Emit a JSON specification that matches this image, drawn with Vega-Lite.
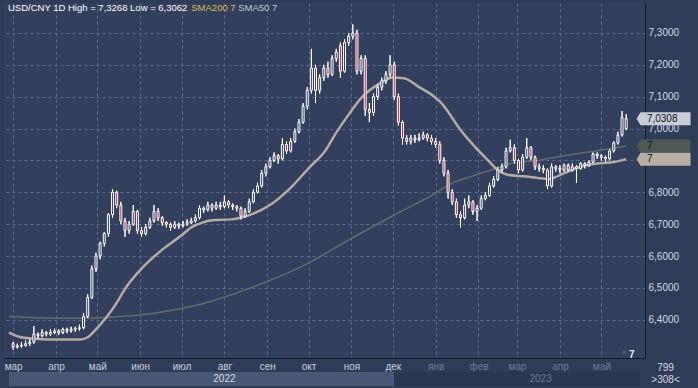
{
  "$schema": "https://vega.github.io/schema/vega-lite/v6.json",
  "width": 641,
  "height": 355,
  "autosize": {"type": "none"},
  "padding": {"left": 4, "top": 3, "right": 53, "bottom": 30},
  "background": "#2f3c58",
  "config": {
    "view": {"fill": "#33405d", "stroke": null},
    "font": "Liberation Sans",
    "text": {"font": "Liberation Sans"}
  },
  "resolve": {"axis": {"x": "independent", "y": "independent"}},
  "datasets": {
    "candles": [
      {"t":"2022-03-01","o":6.325,"h":6.33,"l":6.306,"c":6.315},
      {"t":"2022-03-04","o":6.315,"h":6.325,"l":6.31,"c":6.318},
      {"t":"2022-03-07","o":6.318,"h":6.33,"l":6.312,"c":6.32},
      {"t":"2022-03-10","o":6.32,"h":6.335,"l":6.315,"c":6.325},
      {"t":"2022-03-13","o":6.325,"h":6.34,"l":6.318,"c":6.33},
      {"t":"2022-03-16","o":6.33,"h":6.38,"l":6.325,"c":6.355},
      {"t":"2022-03-19","o":6.355,"h":6.36,"l":6.34,"c":6.35},
      {"t":"2022-03-22","o":6.35,"h":6.37,"l":6.345,"c":6.36},
      {"t":"2022-03-25","o":6.36,"h":6.365,"l":6.348,"c":6.355},
      {"t":"2022-03-28","o":6.355,"h":6.37,"l":6.35,"c":6.36},
      {"t":"2022-03-31","o":6.36,"h":6.372,"l":6.355,"c":6.365},
      {"t":"2022-04-03","o":6.365,"h":6.37,"l":6.352,"c":6.36},
      {"t":"2022-04-06","o":6.36,"h":6.375,"l":6.355,"c":6.37},
      {"t":"2022-04-09","o":6.37,"h":6.375,"l":6.358,"c":6.365},
      {"t":"2022-04-12","o":6.365,"h":6.378,"l":6.36,"c":6.37},
      {"t":"2022-04-15","o":6.37,"h":6.378,"l":6.362,"c":6.372},
      {"t":"2022-04-18","o":6.372,"h":6.385,"l":6.366,"c":6.375},
      {"t":"2022-04-21","o":6.375,"h":6.42,"l":6.37,"c":6.41},
      {"t":"2022-04-24","o":6.41,"h":6.48,"l":6.405,"c":6.47},
      {"t":"2022-04-27","o":6.47,"h":6.57,"l":6.465,"c":6.56},
      {"t":"2022-04-30","o":6.56,"h":6.61,"l":6.55,"c":6.6},
      {"t":"2022-05-03","o":6.6,"h":6.645,"l":6.59,"c":6.64},
      {"t":"2022-05-06","o":6.64,"h":6.675,"l":6.63,"c":6.67},
      {"t":"2022-05-09","o":6.67,"h":6.735,"l":6.66,"c":6.73},
      {"t":"2022-05-12","o":6.73,"h":6.81,"l":6.72,"c":6.8},
      {"t":"2022-05-15","o":6.8,"h":6.805,"l":6.75,"c":6.76},
      {"t":"2022-05-18","o":6.76,"h":6.77,"l":6.7,"c":6.71},
      {"t":"2022-05-21","o":6.71,"h":6.72,"l":6.66,"c":6.68},
      {"t":"2022-05-24","o":6.68,"h":6.71,"l":6.67,"c":6.7},
      {"t":"2022-05-27","o":6.7,"h":6.76,"l":6.695,"c":6.74},
      {"t":"2022-05-30","o":6.74,"h":6.745,"l":6.67,"c":6.68},
      {"t":"2022-06-02","o":6.68,"h":6.69,"l":6.66,"c":6.67},
      {"t":"2022-06-05","o":6.67,"h":6.7,"l":6.665,"c":6.69},
      {"t":"2022-06-08","o":6.69,"h":6.72,"l":6.685,"c":6.71},
      {"t":"2022-06-11","o":6.71,"h":6.76,"l":6.705,"c":6.74},
      {"t":"2022-06-14","o":6.74,"h":6.75,"l":6.71,"c":6.72},
      {"t":"2022-06-17","o":6.72,"h":6.725,"l":6.695,"c":6.705},
      {"t":"2022-06-20","o":6.705,"h":6.71,"l":6.69,"c":6.7},
      {"t":"2022-06-23","o":6.7,"h":6.705,"l":6.68,"c":6.69},
      {"t":"2022-06-26","o":6.69,"h":6.71,"l":6.685,"c":6.7},
      {"t":"2022-06-29","o":6.7,"h":6.705,"l":6.685,"c":6.695},
      {"t":"2022-07-02","o":6.695,"h":6.71,"l":6.69,"c":6.7},
      {"t":"2022-07-05","o":6.7,"h":6.715,"l":6.695,"c":6.705},
      {"t":"2022-07-08","o":6.705,"h":6.72,"l":6.7,"c":6.71},
      {"t":"2022-07-11","o":6.71,"h":6.73,"l":6.705,"c":6.72},
      {"t":"2022-07-14","o":6.72,"h":6.76,"l":6.715,"c":6.75},
      {"t":"2022-07-17","o":6.75,"h":6.755,"l":6.735,"c":6.745},
      {"t":"2022-07-20","o":6.745,"h":6.77,"l":6.74,"c":6.76},
      {"t":"2022-07-23","o":6.76,"h":6.765,"l":6.74,"c":6.75},
      {"t":"2022-07-26","o":6.75,"h":6.77,"l":6.745,"c":6.76},
      {"t":"2022-07-29","o":6.76,"h":6.77,"l":6.745,"c":6.755},
      {"t":"2022-08-01","o":6.755,"h":6.79,"l":6.75,"c":6.77},
      {"t":"2022-08-04","o":6.77,"h":6.775,"l":6.75,"c":6.76},
      {"t":"2022-08-07","o":6.76,"h":6.765,"l":6.745,"c":6.755},
      {"t":"2022-08-10","o":6.755,"h":6.76,"l":6.74,"c":6.75},
      {"t":"2022-08-13","o":6.75,"h":6.755,"l":6.715,"c":6.725},
      {"t":"2022-08-16","o":6.725,"h":6.75,"l":6.72,"c":6.74},
      {"t":"2022-08-19","o":6.74,"h":6.78,"l":6.735,"c":6.77},
      {"t":"2022-08-22","o":6.77,"h":6.81,"l":6.765,"c":6.8},
      {"t":"2022-08-25","o":6.8,"h":6.83,"l":6.795,"c":6.82},
      {"t":"2022-08-28","o":6.82,"h":6.87,"l":6.815,"c":6.86},
      {"t":"2022-08-31","o":6.86,"h":6.89,"l":6.85,"c":6.88},
      {"t":"2022-09-03","o":6.88,"h":6.91,"l":6.875,"c":6.9},
      {"t":"2022-09-06","o":6.9,"h":6.925,"l":6.895,"c":6.915},
      {"t":"2022-09-09","o":6.915,"h":6.92,"l":6.89,"c":6.905},
      {"t":"2022-09-12","o":6.905,"h":6.97,"l":6.9,"c":6.95},
      {"t":"2022-09-15","o":6.95,"h":6.96,"l":6.92,"c":6.93},
      {"t":"2022-09-18","o":6.93,"h":6.97,"l":6.925,"c":6.96},
      {"t":"2022-09-21","o":6.96,"h":7.0,"l":6.955,"c":6.99},
      {"t":"2022-09-24","o":6.99,"h":7.03,"l":6.985,"c":7.02},
      {"t":"2022-09-27","o":7.02,"h":7.08,"l":7.015,"c":7.07},
      {"t":"2022-09-30","o":7.07,"h":7.13,"l":7.06,"c":7.12},
      {"t":"2022-10-03","o":7.12,"h":7.25,"l":7.11,"c":7.19},
      {"t":"2022-10-06","o":7.19,"h":7.2,"l":7.08,"c":7.12},
      {"t":"2022-10-09","o":7.12,"h":7.17,"l":7.11,"c":7.16},
      {"t":"2022-10-12","o":7.16,"h":7.2,"l":7.15,"c":7.19},
      {"t":"2022-10-15","o":7.19,"h":7.21,"l":7.16,"c":7.17},
      {"t":"2022-10-18","o":7.17,"h":7.23,"l":7.165,"c":7.22},
      {"t":"2022-10-21","o":7.22,"h":7.25,"l":7.21,"c":7.24},
      {"t":"2022-10-24","o":7.26,"h":7.27,"l":7.16,"c":7.18},
      {"t":"2022-10-27","o":7.18,"h":7.28,"l":7.175,"c":7.27},
      {"t":"2022-10-30","o":7.27,"h":7.3,"l":7.26,"c":7.29},
      {"t":"2022-11-02","o":7.29,"h":7.3268,"l":7.28,"c":7.3},
      {"t":"2022-11-05","o":7.3,"h":7.31,"l":7.17,"c":7.18},
      {"t":"2022-11-08","o":7.18,"h":7.23,"l":7.17,"c":7.22},
      {"t":"2022-11-11","o":7.22,"h":7.23,"l":7.04,"c":7.06},
      {"t":"2022-11-14","o":7.06,"h":7.08,"l":7.02,"c":7.05},
      {"t":"2022-11-17","o":7.05,"h":7.11,"l":7.04,"c":7.1},
      {"t":"2022-11-20","o":7.1,"h":7.14,"l":7.09,"c":7.13},
      {"t":"2022-11-23","o":7.13,"h":7.16,"l":7.12,"c":7.15},
      {"t":"2022-11-26","o":7.15,"h":7.18,"l":7.14,"c":7.17},
      {"t":"2022-11-29","o":7.17,"h":7.23,"l":7.16,"c":7.2},
      {"t":"2022-12-02","o":7.2,"h":7.21,"l":7.09,"c":7.1},
      {"t":"2022-12-05","o":7.1,"h":7.11,"l":7.01,"c":7.02},
      {"t":"2022-12-08","o":7.02,"h":7.025,"l":6.95,"c":6.97},
      {"t":"2022-12-11","o":6.97,"h":6.98,"l":6.95,"c":6.96},
      {"t":"2022-12-14","o":6.96,"h":6.98,"l":6.95,"c":6.97},
      {"t":"2022-12-17","o":6.97,"h":6.98,"l":6.955,"c":6.965},
      {"t":"2022-12-20","o":6.965,"h":6.985,"l":6.96,"c":6.97},
      {"t":"2022-12-23","o":6.97,"h":6.99,"l":6.965,"c":6.98},
      {"t":"2022-12-26","o":6.98,"h":6.985,"l":6.96,"c":6.97},
      {"t":"2022-12-29","o":6.97,"h":6.98,"l":6.95,"c":6.96},
      {"t":"2023-01-01","o":6.96,"h":6.97,"l":6.94,"c":6.95},
      {"t":"2023-01-04","o":6.95,"h":6.96,"l":6.89,"c":6.9},
      {"t":"2023-01-07","o":6.9,"h":6.91,"l":6.85,"c":6.86},
      {"t":"2023-01-10","o":6.86,"h":6.87,"l":6.78,"c":6.8},
      {"t":"2023-01-13","o":6.8,"h":6.81,"l":6.76,"c":6.77},
      {"t":"2023-01-16","o":6.77,"h":6.78,"l":6.72,"c":6.73},
      {"t":"2023-01-19","o":6.73,"h":6.74,"l":6.69,"c":6.72},
      {"t":"2023-01-22","o":6.72,"h":6.78,"l":6.715,"c":6.76},
      {"t":"2023-01-25","o":6.76,"h":6.79,"l":6.75,"c":6.77},
      {"t":"2023-01-28","o":6.77,"h":6.775,"l":6.73,"c":6.74},
      {"t":"2023-01-31","o":6.74,"h":6.76,"l":6.71,"c":6.75},
      {"t":"2023-02-03","o":6.75,"h":6.79,"l":6.745,"c":6.78},
      {"t":"2023-02-06","o":6.78,"h":6.8,"l":6.775,"c":6.79},
      {"t":"2023-02-09","o":6.79,"h":6.83,"l":6.785,"c":6.82},
      {"t":"2023-02-12","o":6.82,"h":6.85,"l":6.815,"c":6.84},
      {"t":"2023-02-15","o":6.84,"h":6.88,"l":6.835,"c":6.87},
      {"t":"2023-02-18","o":6.87,"h":6.89,"l":6.86,"c":6.88},
      {"t":"2023-02-21","o":6.88,"h":6.94,"l":6.875,"c":6.93},
      {"t":"2023-02-24","o":6.93,"h":6.965,"l":6.925,"c":6.94},
      {"t":"2023-02-27","o":6.94,"h":6.95,"l":6.89,"c":6.9},
      {"t":"2023-03-02","o":6.9,"h":6.905,"l":6.86,"c":6.87},
      {"t":"2023-03-05","o":6.87,"h":6.92,"l":6.865,"c":6.91},
      {"t":"2023-03-08","o":6.91,"h":6.97,"l":6.905,"c":6.94},
      {"t":"2023-03-11","o":6.94,"h":6.945,"l":6.9,"c":6.91},
      {"t":"2023-03-14","o":6.91,"h":6.915,"l":6.87,"c":6.88},
      {"t":"2023-03-17","o":6.88,"h":6.89,"l":6.865,"c":6.875},
      {"t":"2023-03-20","o":6.875,"h":6.885,"l":6.86,"c":6.87},
      {"t":"2023-03-23","o":6.87,"h":6.875,"l":6.81,"c":6.82},
      {"t":"2023-03-26","o":6.82,"h":6.89,"l":6.815,"c":6.88},
      {"t":"2023-03-29","o":6.88,"h":6.885,"l":6.865,"c":6.875},
      {"t":"2023-04-01","o":6.875,"h":6.885,"l":6.86,"c":6.87},
      {"t":"2023-04-04","o":6.87,"h":6.89,"l":6.865,"c":6.885},
      {"t":"2023-04-07","o":6.885,"h":6.89,"l":6.865,"c":6.87},
      {"t":"2023-04-10","o":6.87,"h":6.89,"l":6.865,"c":6.88},
      {"t":"2023-04-13","o":6.88,"h":6.885,"l":6.83,"c":6.875},
      {"t":"2023-04-16","o":6.875,"h":6.895,"l":6.87,"c":6.89},
      {"t":"2023-04-19","o":6.89,"h":6.895,"l":6.875,"c":6.885},
      {"t":"2023-04-22","o":6.885,"h":6.9,"l":6.88,"c":6.895},
      {"t":"2023-04-25","o":6.895,"h":6.925,"l":6.89,"c":6.92},
      {"t":"2023-04-28","o":6.92,"h":6.925,"l":6.905,"c":6.915},
      {"t":"2023-05-01","o":6.915,"h":6.92,"l":6.9,"c":6.91},
      {"t":"2023-05-04","o":6.91,"h":6.915,"l":6.895,"c":6.905},
      {"t":"2023-05-07","o":6.905,"h":6.935,"l":6.9,"c":6.93},
      {"t":"2023-05-10","o":6.93,"h":6.96,"l":6.925,"c":6.955},
      {"t":"2023-05-13","o":6.955,"h":6.99,"l":6.95,"c":6.98},
      {"t":"2023-05-16","o":6.98,"h":7.055,"l":6.975,"c":7.035},
      {"t":"2023-05-19","o":7.0,"h":7.045,"l":6.995,"c":7.0308}
    ],
    "sma50": [
      {"t":"2022-02-26","v":6.36},{"t":"2022-03-07","v":6.345},{"t":"2022-03-19","v":6.34},
      {"t":"2022-04-03","v":6.338},{"t":"2022-04-19","v":6.338},{"t":"2022-04-24","v":6.345},
      {"t":"2022-04-30","v":6.37},{"t":"2022-05-08","v":6.41},{"t":"2022-05-16","v":6.46},
      {"t":"2022-05-20","v":6.49},{"t":"2022-06-03","v":6.565},{"t":"2022-06-17","v":6.62},
      {"t":"2022-07-01","v":6.665},{"t":"2022-07-08","v":6.69},{"t":"2022-07-16","v":6.705},
      {"t":"2022-07-23","v":6.712},{"t":"2022-08-06","v":6.715},{"t":"2022-08-20","v":6.73},
      {"t":"2022-09-03","v":6.76},{"t":"2022-09-17","v":6.81},{"t":"2022-10-02","v":6.88},
      {"t":"2022-10-13","v":6.93},{"t":"2022-10-20","v":6.98},{"t":"2022-10-31","v":7.05},
      {"t":"2022-11-09","v":7.1},{"t":"2022-11-21","v":7.14},{"t":"2022-12-01","v":7.16},
      {"t":"2022-12-09","v":7.158},{"t":"2022-12-20","v":7.13},{"t":"2022-12-31","v":7.1},
      {"t":"2023-01-04","v":7.085},{"t":"2023-01-20","v":6.99},{"t":"2023-01-30","v":6.94},
      {"t":"2023-02-08","v":6.9},{"t":"2023-02-15","v":6.87},{"t":"2023-02-22","v":6.855},
      {"t":"2023-03-06","v":6.85},{"t":"2023-03-16","v":6.845},{"t":"2023-03-24","v":6.842},
      {"t":"2023-04-04","v":6.86},{"t":"2023-04-16","v":6.88},{"t":"2023-04-28","v":6.89},
      {"t":"2023-05-10","v":6.895},{"t":"2023-05-19","v":6.904}
    ],
    "sma200": [
      {"t":"2022-02-26","v":6.41},{"t":"2022-03-31","v":6.405},{"t":"2022-04-28","v":6.405},
      {"t":"2022-05-16","v":6.41},{"t":"2022-06-10","v":6.42},{"t":"2022-07-16","v":6.45},
      {"t":"2022-08-20","v":6.5},{"t":"2022-09-25","v":6.565},{"t":"2022-11-07","v":6.67},
      {"t":"2022-12-07","v":6.74},{"t":"2022-12-31","v":6.795},{"t":"2023-01-11","v":6.825},
      {"t":"2023-01-27","v":6.85},{"t":"2023-02-10","v":6.87},{"t":"2023-02-24","v":6.89},
      {"t":"2023-03-16","v":6.9},{"t":"2023-04-04","v":6.915},{"t":"2023-04-28","v":6.93},
      {"t":"2023-05-19","v":6.945}
    ],
    "years": [
      {"year":"2022","start":"2022-02-26","end":"2022-12-02","mid":"2022-08-01"},
      {"year":"2023","start":"2022-12-02","end":"2023-05-29","mid":"2023-03-18"}
    ],
    "tags": [
      {"label":"7,0308","v":7.0308,"kind":"close"},
      {"label":"7","v":6.945,"kind":"sma200"},
      {"label":"7","v":6.904,"kind":"sma50"}
    ]
  },
  "layer": [
    {
      "data": {"name": "candles"},
      "mark": {"type": "rule", "color": "#ffffff", "strokeWidth": 1},
      "encoding": {
        "x": {
          "field": "t", "type": "temporal",
          "scale": {"type": "utc", "domain": [{"year": 2022, "month": 2, "date": 26, "utc": true}, {"year": 2023, "month": 5, "date": 29, "utc": true}]},
          "axis": {
            "title": null,
            "values": [
              {"year": 2022, "month": 3, "date": 1, "utc": true},
              {"year": 2022, "month": 4, "date": 1, "utc": true},
              {"year": 2022, "month": 5, "date": 1, "utc": true},
              {"year": 2022, "month": 6, "date": 1, "utc": true},
              {"year": 2022, "month": 7, "date": 1, "utc": true},
              {"year": 2022, "month": 8, "date": 1, "utc": true},
              {"year": 2022, "month": 9, "date": 1, "utc": true},
              {"year": 2022, "month": 10, "date": 1, "utc": true},
              {"year": 2022, "month": 11, "date": 1, "utc": true},
              {"year": 2022, "month": 12, "date": 1, "utc": true},
              {"year": 2023, "month": 1, "date": 1, "utc": true},
              {"year": 2023, "month": 2, "date": 1, "utc": true},
              {"year": 2023, "month": 3, "date": 1, "utc": true},
              {"year": 2023, "month": 4, "date": 1, "utc": true},
              {"year": 2023, "month": 5, "date": 1, "utc": true}
            ],
            "labelExpr": "['янв','фев','мар','апр','май','июн','июл','авг','сен','окт','ноя','дек'][utcmonth(datum.value)]",
            "labelColor": {"condition": {"test": "datum.value < utc(2022, 11, 15)", "value": "#c9cfda"}, "value": "#6d7992"},
            "labelFontSize": 10,
            "labelFont": "Liberation Sans",
            "labelPadding": 3,
            "labelFlush": false,
            "labelOverlap": false,
            "ticks": false,
            "domainColor": "#121826",
            "domainWidth": 1,
            "grid": true,
            "gridColor": "#5a6a8a",
            "gridDash": [3, 3],
            "gridWidth": 1
          }
        },
        "y": {
          "field": "l", "type": "quantitative",
          "scale": {"domain": [6.28, 7.394], "zero": false, "nice": false},
          "axis": {
            "title": null,
            "orient": "right",
            "values": [6.4, 6.5, 6.6, 6.7, 6.8, 6.9, 7.0, 7.1, 7.2, 7.3],
            "tickCount": 10,
            "labelExpr": "abs(datum.value - 6.9) < 0.001 ? '' : replace(format(datum.value, '.4f'), '.', ',')",
            "labelAlign": "left",
            "labelPadding": 3,
            "labelFontSize": 10,
            "labelFont": "Liberation Sans",
            "labelColor": "#d3d8e2",
            "labelOverlap": false,
            "ticks": false,
            "domainColor": "#121826",
            "domainWidth": 1,
            "grid": true,
            "gridColor": "#5a6a8a",
            "gridDash": [3, 3],
            "gridWidth": 1
          }
        },
        "y2": {"field": "h"}
      }
    },
    {
      "data": {"name": "years"},
      "mark": {"type": "rect"},
      "encoding": {
        "x": {"field": "start", "type": "temporal", "axis": null},
        "x2": {"field": "end"},
        "y": {"datum": 6.236, "type": "quantitative", "axis": null},
        "y2": {"datum": 6.192},
        "fill": {"condition": {"test": "datum.year == '2022'", "value": "#4a5774"}, "value": "#2b3751"}
      }
    },
    {
      "data": {"name": "years"},
      "mark": {"type": "text", "fontSize": 10, "baseline": "middle", "align": "center"},
      "encoding": {
        "x": {"field": "mid", "type": "temporal", "axis": null},
        "y": {"datum": 6.214, "type": "quantitative", "axis": null},
        "text": {"field": "year"},
        "fill": {"condition": {"test": "datum.year == '2022'", "value": "#d5dae4"}, "value": "#6b7891"}
      }
    },
    {
      "data": {"name": "sma200"},
      "mark": {"type": "line", "color": "#646b69", "strokeWidth": 1.5, "interpolate": "monotone"},
      "encoding": {
        "x": {"field": "t", "type": "temporal", "axis": null},
        "y": {"field": "v", "type": "quantitative", "axis": null}
      }
    },
    {
      "data": {"name": "sma50"},
      "mark": {"type": "line", "color": "#b4aca4", "strokeWidth": 2.5, "interpolate": "monotone"},
      "encoding": {
        "x": {"field": "t", "type": "temporal", "axis": null},
        "y": {"field": "v", "type": "quantitative", "axis": null}
      }
    },
    {
      "data": {"name": "candles"},
      "mark": {"type": "rule", "color": "#ffffff", "strokeWidth": 1},
      "encoding": {
        "x": {"field": "t", "type": "temporal", "axis": null},
        "y": {"field": "l", "type": "quantitative", "axis": null},
        "y2": {"field": "h"}
      }
    },
    {
      "data": {"name": "candles"},
      "mark": {"type": "bar", "size": 2, "stroke": "#ffffff", "strokeWidth": 1},
      "encoding": {
        "x": {"field": "t", "type": "temporal", "axis": null},
        "y": {"field": "o", "type": "quantitative", "axis": null},
        "y2": {"field": "c"},
        "fill": {"condition": {"test": "datum.c < datum.o", "value": "#b3233f"}, "value": "#33405d"}
      }
    },
    {
      "data": {"values": [{"label": "USD/CNY 1D High = 7,3268 Low = 6,3062"}]},
      "mark": {"type": "text", "align": "left", "baseline": "middle", "fontSize": 9.5, "fill": "#ffffff", "dx": -1},
      "encoding": {
        "x": {"datum": {"year": 2022, "month": 2, "date": 26, "utc": true}, "type": "temporal", "axis": null},
        "y": {"datum": 7.379, "type": "quantitative", "axis": null},
        "text": {"field": "label"}
      }
    },
    {
      "data": {"values": [{"label": "SMA200 7"}]},
      "mark": {"type": "text", "align": "left", "baseline": "middle", "fontSize": 9.5, "fill": "#d9b84a"},
      "encoding": {
        "x": {"datum": {"year": 2022, "month": 7, "date": 8, "utc": true}, "type": "temporal", "axis": null},
        "y": {"datum": 7.379, "type": "quantitative", "axis": null},
        "text": {"field": "label"}
      }
    },
    {
      "data": {"values": [{"label": "SMA50 7"}]},
      "mark": {"type": "text", "align": "left", "baseline": "middle", "fontSize": 9.5, "fill": "#c4c4c4"},
      "encoding": {
        "x": {"datum": {"year": 2022, "month": 8, "date": 11, "utc": true}, "type": "temporal", "axis": null},
        "y": {"datum": 7.379, "type": "quantitative", "axis": null},
        "text": {"field": "label"}
      }
    },
    {
      "data": {"name": "tags"},
      "mark": {"type": "point", "filled": true, "opacity": 1, "size": 2500, "strokeWidth": 0, "shape": "M-1.16,0L-1,-0.26L1,-0.26L1,0.26L-1,0.26Z"},
      "encoding": {
        "x": {"datum": {"year": 2023, "month": 6, "date": 16, "hours": 12, "utc": true}, "type": "temporal", "axis": null},
        "y": {"field": "v", "type": "quantitative", "axis": null},
        "fill": {"condition": [{"test": "datum.kind == 'close'", "value": "#c8cdd6"}, {"test": "datum.kind == 'sma200'", "value": "#4e5854"}], "value": "#b7aea5"}
      }
    },
    {
      "data": {"name": "tags"},
      "mark": {"type": "text", "align": "left", "baseline": "middle", "fontSize": 10, "fill": "#111111"},
      "encoding": {
        "x": {"datum": {"year": 2023, "month": 6, "date": 3, "utc": true}, "type": "temporal", "axis": null},
        "y": {"field": "v", "type": "quantitative", "axis": null},
        "text": {"field": "label"}
      }
    },
    {
      "data": {"values": [{"label": "799"}]},
      "mark": {"type": "text", "align": "center", "baseline": "middle", "fontSize": 10, "fill": "#d3d8e2"},
      "encoding": {
        "x": {"datum": {"year": 2023, "month": 6, "date": 16, "hours": 12, "utc": true}, "type": "temporal", "axis": null},
        "y": {"datum": 6.2487, "type": "quantitative", "axis": null},
        "text": {"field": "label"}
      }
    },
    {
      "data": {"values": [{"label": ">308<"}]},
      "mark": {"type": "text", "align": "center", "baseline": "middle", "fontSize": 10, "fill": "#d3d8e2"},
      "encoding": {
        "x": {"datum": {"year": 2023, "month": 6, "date": 16, "hours": 12, "utc": true}, "type": "temporal", "axis": null},
        "y": {"datum": 6.211, "type": "quantitative", "axis": null},
        "text": {"field": "label"}
      }
    },
    {
      "data": {"values": [{"label": "▲"}]},
      "mark": {"type": "text", "align": "center", "baseline": "middle", "fontSize": 8, "fill": "#4a5671"},
      "encoding": {
        "x": {"datum": {"year": 2023, "month": 5, "date": 17, "hours": 12, "utc": true}, "type": "temporal", "axis": null},
        "y": {"datum": 6.298, "type": "quantitative", "axis": null},
        "text": {"field": "label"}
      }
    },
    {
      "data": {"values": [{"label": "7"}]},
      "mark": {"type": "text", "align": "center", "baseline": "middle", "fontSize": 10, "fontWeight": "bold", "fill": "#e8ecf2"},
      "encoding": {
        "x": {"datum": {"year": 2023, "month": 5, "date": 23, "utc": true}, "type": "temporal", "axis": null},
        "y": {"datum": 6.29, "type": "quantitative", "axis": null},
        "text": {"field": "label"}
      }
    }
  ]
}
